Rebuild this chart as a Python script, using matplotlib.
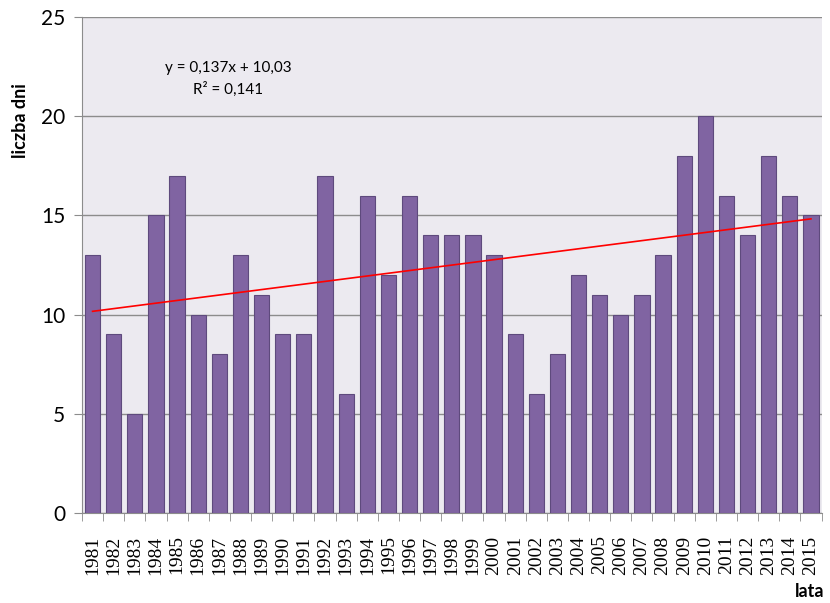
import numpy as np
import matplotlib.pyplot as plt

years = list(range(1981, 2016))
days = [13, 9, 5, 15, 17, 10, 8, 13, 11, 9, 9, 17, 6, 16, 12, 16, 14, 14, 14, 13,
        9, 6, 8, 12, 11, 10, 11, 13, 18, 20, 16, 14, 18, 16, 15]
slope = 0.137
intercept = 10.03
r2_text = "R\u00b2 = 0,141"
eq_text = "y = 0,137x + 10,03"

fig = plt.figure(figsize=(8.3, 6.03), dpi=100)
ax = fig.add_axes([0.0988, 0.149, 0.891, 0.823])
ax.set_facecolor("#ECEAF0")

x = np.arange(len(years))
ax.bar(x, days, width=0.72, color="#8064A2", edgecolor="#5E4A7D", linewidth=0.8, zorder=3)

# linear trend, x counted from 1 like in Excel
xt = np.array([1, len(years)])
ax.plot(xt - 1, slope * xt + intercept, color="#FF0000", linewidth=1.2, zorder=4)

ax.set_xlim(-0.5, len(years) - 0.5)
ax.set_ylim(0, 25)
ax.set_yticks([0, 5, 10, 15, 20, 25])
ax.yaxis.grid(True, color="#8C8C8C", linewidth=1.0, zorder=0)
ax.set_axisbelow(True)

for s in ["top", "right"]:
    ax.spines[s].set_visible(False)
ax.spines["left"].set_color("#8C8C8C")
ax.spines["bottom"].set_color("#8C8C8C")

ax.set_xticks(x)
ax.set_xticklabels([str(y) for y in years], rotation=90, family="Liberation Serif", fontsize=14)
ax.tick_params(axis="x", length=0, pad=16)
ax.set_xticks(np.arange(-0.5, len(years)), minor=True)
ax.tick_params(axis="x", which="minor", length=6, color="#8C8C8C")
ax.tick_params(axis="y", length=6, color="#8C8C8C", labelsize=15, pad=6)
for lb in ax.get_yticklabels():
    lb.set_family("Lato")

fig.text(0.025, 0.80, "liczba dni", rotation=90, ha="center", va="center",
         fontsize=13, fontweight="bold", family="Lato")
fig.text(0.975, 0.005, "lata", ha="center", va="bottom", fontsize=13,
         fontweight="bold", family="Lato")
ax.text(0.198, 0.897, eq_text, transform=ax.transAxes, ha="center", va="center",
        fontsize=11, family="Lato")
ax.text(0.198, 0.855, r2_text, transform=ax.transAxes, ha="center", va="center",
        fontsize=11, family="Lato")

fig.savefig("out.png", dpi=100)
